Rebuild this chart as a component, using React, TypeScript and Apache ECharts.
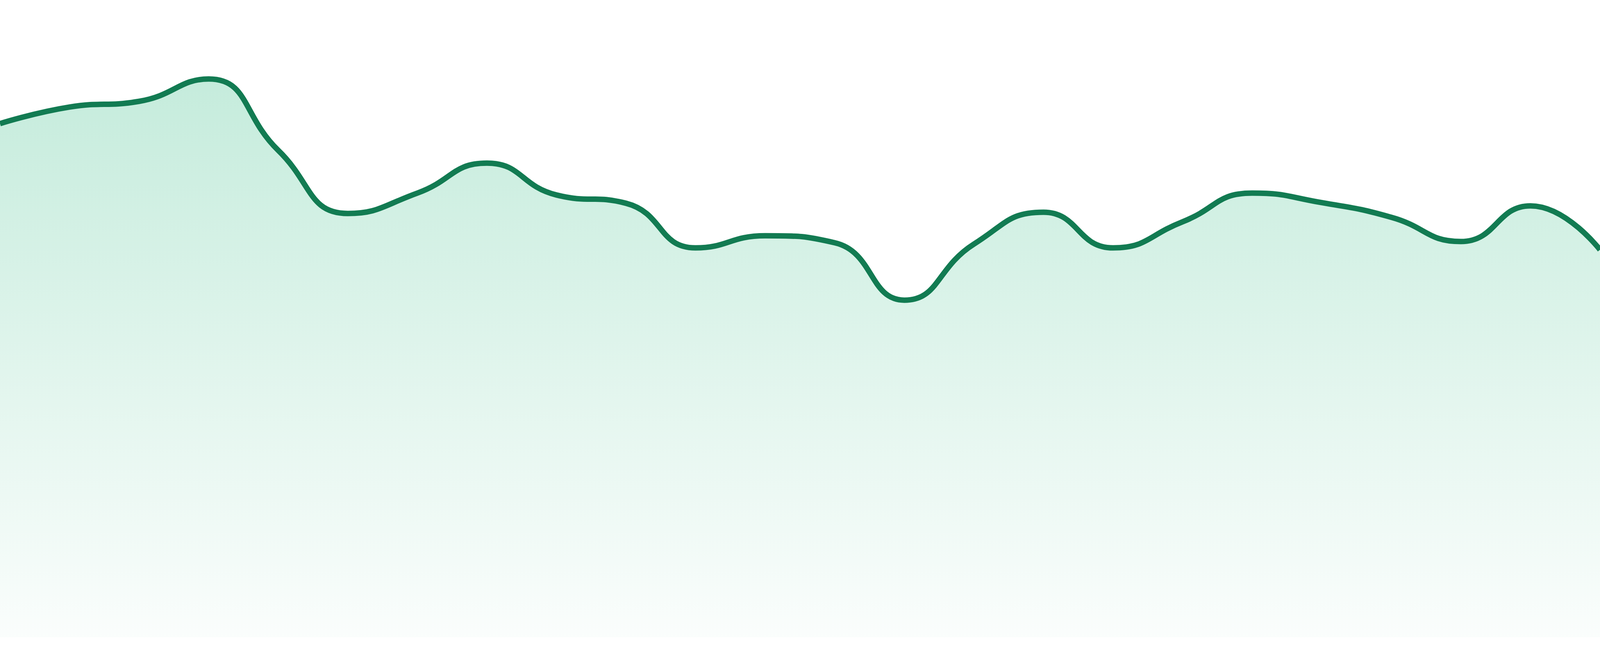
import { useEffect, useRef } from "react";
import * as echarts from "echarts";

// 24 evenly spaced samples, first at the left edge, last at the right edge
const labels = [
  "00", "01", "02", "03", "04", "05", "06", "07", "08", "09", "10", "11",
  "12", "13", "14", "15", "16", "17", "18", "19", "20", "21", "22", "23",
];

const values = [
  80.6, 83.2, 84.1, 87.6, 76.4, 66.5, 69.7, 74.4, 69.4, 68.1, 61.1, 63.0,
  61.9, 52.9, 61.7, 66.7, 61.1, 65.2, 69.7, 68.2, 65.9, 62.1, 67.7, 60.8,
];

const LINE_COLOR = "#127b52";

export default function App() {
  const chartRef = useRef<HTMLDivElement>(null);

  useEffect(() => {
    if (!chartRef.current) return;
    const chart = echarts.init(chartRef.current, undefined, { renderer: "svg" });

    chart.setOption({
      animation: false,
      grid: { left: 0, right: 0, top: 0, bottom: 48 },
      xAxis: {
        type: "category",
        data: labels,
        boundaryGap: false,
        show: false,
      },
      yAxis: { type: "value", min: 0, max: 100, show: false },
      series: [
        {
          type: "line",
          data: values,
          smooth: true,
          symbol: "none",
          lineStyle: { color: LINE_COLOR, width: 14 },
          areaStyle: {
            color: new echarts.graphic.LinearGradient(0, 0, 0, 1, [
              { offset: 0, color: "rgba(38, 183, 124, 0.38)" },
              { offset: 1, color: "rgba(38, 183, 124, 0.03)" },
            ]),
          },
        },
      ],
    });

    const onResize = () => chart.resize();
    window.addEventListener("resize", onResize);
    return () => {
      window.removeEventListener("resize", onResize);
      chart.dispose();
    };
  }, []);

  return (
    <div
      ref={chartRef}
      style={{
        position: "fixed",
        left: 0,
        top: 0,
        width: "100vw",
        height: "100vh",
        background: "#ffffff",
      }}
    />
  );
}
